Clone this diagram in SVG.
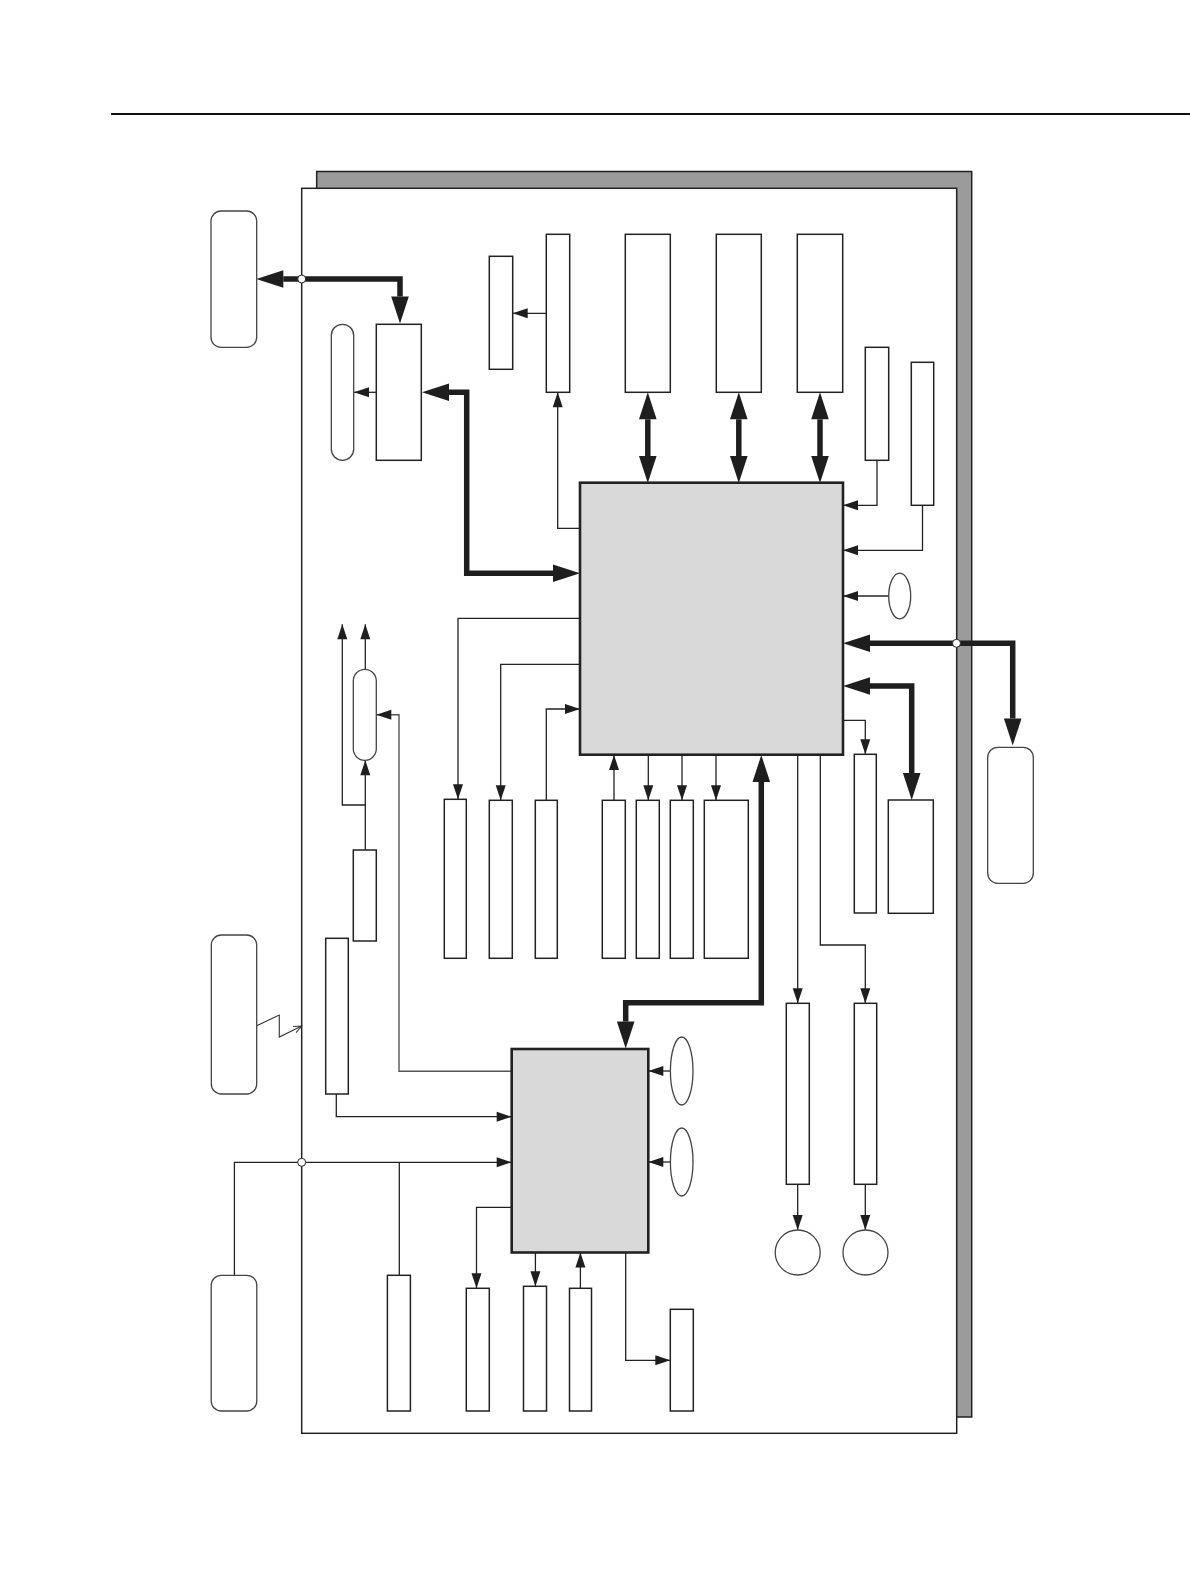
<svg xmlns="http://www.w3.org/2000/svg" width="1190" height="1586" viewBox="0 0 1190 1586">
<style>
.box{fill:#fff;stroke:#222;stroke-width:1.5}
.chip{fill:#d9d9d9;stroke:#222;stroke-width:2.6}
.soft{fill:#fff;stroke:#444;stroke-width:1.3}
.thin{fill:none;stroke:#222;stroke-width:1.3}
.gray{fill:none;stroke:#555;stroke-width:1.4}
.thick{fill:none;stroke:#1e1e1e;stroke-width:5.5}
.jn{fill:#fff;stroke:#222;stroke-width:1}
</style>
<defs>
<marker id="ah" markerUnits="userSpaceOnUse" orient="auto" refX="15" refY="0" markerWidth="16" markerHeight="12" overflow="visible"><path d="M0,-5 L15,0 L0,5 z" fill="#1e1e1e"/></marker>
<marker id="big" markerUnits="userSpaceOnUse" orient="auto-start-reverse" refX="0" refY="0" markerWidth="28" markerHeight="20" overflow="visible"><path d="M0,-8.8 L27,0 L0,8.8 z" fill="#1e1e1e"/></marker>
<marker id="open" markerUnits="userSpaceOnUse" orient="auto" refX="0" refY="0" markerWidth="10" markerHeight="10" overflow="visible"><path d="M-8,-3.5 L0,0 L-8,3.5" fill="none" stroke="#333" stroke-width="1"/></marker>
</defs>
<line x1="111" y1="114" x2="1190" y2="114" stroke="#111" stroke-width="2"/>
<g id="board">
<rect x="316.7" y="171.5" width="655" height="1245.5" fill="#9b9b9b" stroke="#222" stroke-width="1.5"/>
<rect x="301.7" y="188.3" width="655" height="1245" fill="#fff" stroke="#222" stroke-width="1.5"/>
</g>
<g id="connectors">
<path class="thick" d="M283.3,279 H400 V296.5" marker-start="url(#big)" marker-end="url(#big)"/>
<path class="thick" d="M449,392.3 H466.7 V573.3 H553" marker-start="url(#big)" marker-end="url(#big)"/>
<path class="thick" d="M647.8,419.3 V456" marker-start="url(#big)" marker-end="url(#big)"/>
<path class="thick" d="M738.8,419.3 V456" marker-start="url(#big)" marker-end="url(#big)"/>
<path class="thick" d="M820,419.3 V456" marker-start="url(#big)" marker-end="url(#big)"/>
<path class="thick" d="M870,643.3 H1012.7 V718.5" marker-start="url(#big)" marker-end="url(#big)"/>
<path class="thick" d="M870,686 H911.7 V773" marker-start="url(#big)" marker-end="url(#big)"/>
<path class="thick" d="M761.3,782 V1002.7 H625.7 V1021.5" marker-start="url(#big)" marker-end="url(#big)"/>
<path class="thin" d="M376.3,392.3 H354" marker-end="url(#ah)"/>
<path class="thin" d="M546.3,313.3 H512.7" marker-end="url(#ah)"/>
<path class="thin" d="M580,528.3 H557.7 V392.3" marker-end="url(#ah)"/>
<path class="thin" d="M580,618.3 H458 V799.3" marker-end="url(#ah)"/>
<path class="thin" d="M580,664.3 H500.7 V800.3" marker-end="url(#ah)"/>
<path class="thin" d="M546.3,800.3 V709 H580" marker-end="url(#ah)"/>
<path class="thin" d="M614,800.3 V755" marker-end="url(#ah)"/>
<path class="thin" d="M648.3,755 V800.3" marker-end="url(#ah)"/>
<path class="thin" d="M682,755 V800.3" marker-end="url(#ah)"/>
<path class="thin" d="M716,755 V800.3" marker-end="url(#ah)"/>
<path class="thin" d="M797.7,755 V1003.3" marker-end="url(#ah)"/>
<path class="thin" d="M820.3,755 V945 H865.3 V1003.3" marker-end="url(#ah)"/>
<path class="thin" d="M843,720.3 H865.3 V754.3" marker-end="url(#ah)"/>
<path class="thin" d="M877,460.3 V505.3 H843" marker-end="url(#ah)"/>
<path class="thin" d="M922.5,505.3 V550.3 H843" marker-end="url(#ah)"/>
<path class="thin" d="M888.7,596 H843" marker-end="url(#ah)"/>
<path class="thin" d="M797.7,1184 V1230" marker-end="url(#ah)"/>
<path class="thin" d="M865.3,1184 V1230" marker-end="url(#ah)"/>
<path class="thin" d="M670.3,1071 H648.3" marker-end="url(#ah)"/>
<path class="thin" d="M670.3,1162 H648.3" marker-end="url(#ah)"/>
<path class="thin" d="M625.7,1252.5 V1360.3 H670.3" marker-end="url(#ah)"/>
<path class="thin" d="M580.4,1288.3 V1252.5" marker-end="url(#ah)"/>
<path class="thin" d="M535.4,1252.5 V1286.3" marker-end="url(#ah)"/>
<path class="thin" d="M511.7,1207.3 H476.5 V1288.3" marker-end="url(#ah)"/>
<path class="thin" d="M234.4,1275.3 V1162.3 H511.7" marker-end="url(#ah)"/>
<path class="thin" d="M399.3,1162.3 V1275.3"/>
<path class="thin" d="M336.3,1094 V1116.7 H511.7" marker-end="url(#ah)"/>
<path class="gray" d="M511.7,1071.3 H399 V714.7 H376.3" marker-end="url(#ah)"/>
<path class="thin" d="M365.3,850 V760.3" marker-end="url(#ah)"/>
<path class="thin" d="M365.3,805 H342.3 V624.3" marker-end="url(#ah)"/>
<path class="thin" d="M365.3,669.3 V624.3" marker-end="url(#ah)"/>
<path fill="none" stroke="#333" stroke-width="1.1" d="M256.7,1025.7 L279.3,1015 L279.3,1037 L301.7,1026" marker-end="url(#open)"/>
<circle class="jn" cx="301.7" cy="279" r="4"/>
<circle class="jn" cx="956.5" cy="643.3" r="4"/>
<circle class="jn" cx="301.7" cy="1162.3" r="4"/>
</g>
<g id="ext-top"><rect class="soft" x="211" y="211" width="45.7" height="136.3" rx="10"/></g>
<g id="ext-mid"><rect class="soft" x="211.3" y="935" width="45.4" height="159" rx="10"/></g>
<g id="ext-bottom"><rect class="soft" x="211.2" y="1275.3" width="45.6" height="135.7" rx="10"/></g>
<g id="ext-right"><rect class="soft" x="987.7" y="747.3" width="45.6" height="136" rx="10"/></g>
<g id="bus-ctrl"><rect class="box" x="376.3" y="324.3" width="45" height="136"/></g>
<g id="pill1"><rect class="soft" x="331.3" y="324.3" width="22.4" height="136" rx="11.2"/></g>
<g id="small-top"><rect class="box" x="489.3" y="256.3" width="23.4" height="113"/></g>
<g id="tall-top"><rect class="box" x="546.3" y="234.3" width="23.4" height="158"/></g>
<g id="mem-a"><rect class="box" x="625.3" y="234.3" width="45" height="158"/></g>
<g id="mem-b"><rect class="box" x="716.3" y="234.3" width="45" height="158"/></g>
<g id="mem-c"><rect class="box" x="797.3" y="234.3" width="45.4" height="158"/></g>
<g id="box-d"><rect class="box" x="865.3" y="347.3" width="23.4" height="113"/></g>
<g id="box-e"><rect class="box" x="911.3" y="362.3" width="22.4" height="143"/></g>
<g id="cpu"><rect class="chip" x="580" y="482.7" width="263" height="272"/></g>
<g id="osc1"><ellipse class="soft" cx="899.7" cy="596" rx="11" ry="22.8"/></g>
<g id="box-f"><rect class="box" x="888.3" y="800" width="45" height="113.3"/></g>
<g id="box-g"><rect class="box" x="854.3" y="754.3" width="22" height="158.7"/></g>
<g id="box-q"><rect class="box" x="444.3" y="799.3" width="22" height="159"/></g>
<g id="box-r"><rect class="box" x="489.3" y="800.3" width="23" height="158"/></g>
<g id="box-s"><rect class="box" x="535.3" y="800.3" width="22" height="158"/></g>
<g id="box-h"><rect class="box" x="602.3" y="800.3" width="23" height="158"/></g>
<g id="box-i"><rect class="box" x="636.3" y="800.3" width="23" height="158"/></g>
<g id="box-j"><rect class="box" x="670.3" y="800.3" width="23" height="158"/></g>
<g id="box-k"><rect class="box" x="704.3" y="800.3" width="44" height="158"/></g>
<g id="pill2"><rect class="soft" x="353.3" y="669.3" width="23" height="91" rx="11.5"/></g>
<g id="box-l"><rect class="box" x="353.3" y="850" width="23" height="91"/></g>
<g id="box-m"><rect class="box" x="325.7" y="938.3" width="22.6" height="155.7"/></g>
<g id="sub-ctrl"><rect class="chip" x="511.7" y="1049" width="136.6" height="203.5"/></g>
<g id="osc2"><ellipse class="soft" cx="681.7" cy="1071" rx="11.3" ry="34"/></g>
<g id="osc3"><ellipse class="soft" cx="681.7" cy="1162" rx="11.3" ry="34"/></g>
<g id="box-n"><rect class="box" x="786.3" y="1003.3" width="23" height="181"/></g>
<g id="box-o"><rect class="box" x="854.3" y="1003.3" width="22.4" height="181"/></g>
<g id="circ1"><circle class="soft" cx="797.7" cy="1252.5" r="22.5"/></g>
<g id="circ2"><circle class="soft" cx="865.5" cy="1252.5" r="22.5"/></g>
<g id="box-p"><rect class="box" x="670.3" y="1309.3" width="23" height="101.7"/></g>
<g id="box-t"><rect class="box" x="387.4" y="1275.3" width="23" height="135.7"/></g>
<g id="box-u"><rect class="box" x="466.3" y="1288.3" width="23" height="122.7"/></g>
<g id="box-v"><rect class="box" x="523.5" y="1286.3" width="23" height="124.7"/></g>
<g id="box-w"><rect class="box" x="569.5" y="1288.3" width="22" height="122.7"/></g>
</svg>
